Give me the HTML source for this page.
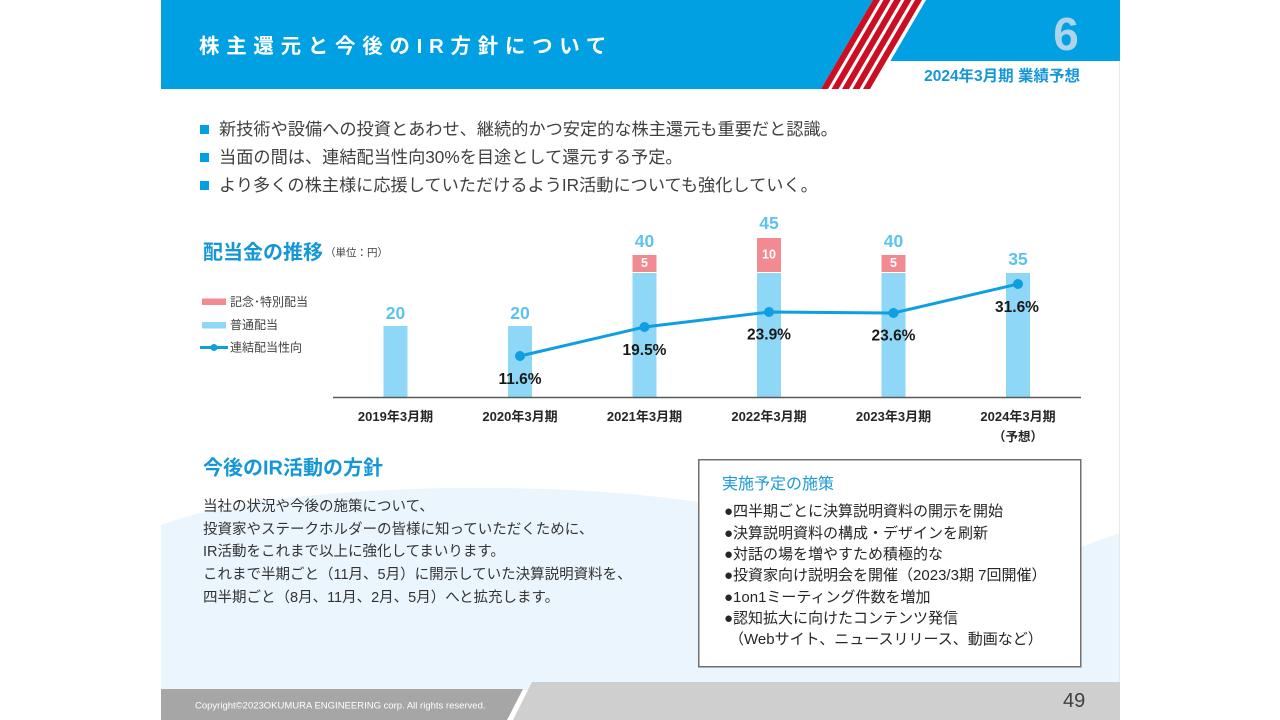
<!DOCTYPE html>
<html><head><meta charset="utf-8"><style>
body{margin:0;width:1280px;height:720px;position:relative;overflow:hidden;background:#fff;font-family:"Liberation Sans","Noto Sans CJK JP",sans-serif;}
.a{position:absolute;white-space:nowrap;}
.sq{position:absolute;width:9px;height:9px;background:#00a0e2;}
</style></head><body>
<svg width="1280" height="720" style="position:absolute;left:0;top:0" font-family="Liberation Sans, Noto Sans CJK JP, sans-serif">
<path d="M161,525 C260,488 480,480 640,495 C800,510 950,560 1081,547 L1120,533 L1120,690 L161,690 Z" fill="#ebf5fd"/>
<line x1="1119.5" y1="0" x2="1119.5" y2="720" stroke="#e8e8e8" stroke-width="1"/>
<polygon points="161,0 873,0 821,89 161,89" fill="#00a0e2"/>
<polygon points="926,0 1120,0 1120,61 890.4,61" fill="#00a0e2"/>
<g fill="#cc0e22">
<polygon points="873,0 880,0 828,89 821,89"/>
<polygon points="883.5,0 890.5,0 838.5,89 831.5,89"/>
<polygon points="894,0 901,0 849,89 842,89"/>
<polygon points="904.5,0 911.5,0 859.5,89 852.5,89"/>
<polygon points="915,0 922,0 870,89 863,89"/>
</g>
<text x="1066" y="34" text-anchor="middle" dominant-baseline="central" font-size="46" font-weight="bold" fill="#aed4ea">6</text>
<text x="1080" y="76.5" text-anchor="end" dominant-baseline="central" font-size="15.5" font-weight="bold" fill="#1597d7">2024年3月期 業績予想</text>

<!-- footer -->
<polygon points="161,689 523,689 507,720 161,720" fill="#a6a6a6"/>
<polygon points="532,682 1120,682 1120,720 513,720" fill="#d0cfcf"/>
<text x="195" y="706" dominant-baseline="central" font-size="9.5" fill="#ffffff">Copyright©2023OKUMURA ENGINEERING corp. All rights reserved.</text>
<text x="1063" y="701" dominant-baseline="central" font-size="20" fill="#404040">49</text>

<!-- chart headings -->
<text x="203" y="253" dominant-baseline="central" font-size="20" font-weight="bold" fill="#1597d7">配当金の推移</text>
<text x="325" y="253" dominant-baseline="central" font-size="10.5" fill="#404040">（単位：円）</text>

<!-- legend -->
<rect x="202" y="298.5" width="24" height="6.5" fill="#f28a92"/>
<text x="230" y="302" dominant-baseline="central" font-size="12" fill="#404040">記念･特別配当</text>
<rect x="202" y="322" width="24" height="6.5" fill="#8ed7f7"/>
<text x="230" y="325" dominant-baseline="central" font-size="12" fill="#404040">普通配当</text>
<line x1="200" y1="347.5" x2="228" y2="347.5" stroke="#0f9ee0" stroke-width="3"/>
<circle cx="214" cy="347.5" r="3.5" fill="#0f9ee0"/>
<text x="230" y="347.5" dominant-baseline="central" font-size="12" fill="#404040">連結配当性向</text>

<!-- bars -->
<g fill="#8ed7f7">
<rect x="383.5" y="326" width="24" height="71"/>
<rect x="508" y="326" width="24" height="71"/>
<rect x="632.5" y="273" width="24" height="124"/>
<rect x="757" y="273" width="24" height="124"/>
<rect x="881.5" y="273" width="24" height="124"/>
<rect x="1006" y="273" width="24" height="124"/>
</g>
<g fill="#f28a92">
<rect x="632.5" y="255" width="24" height="17"/>
<rect x="757" y="238" width="24" height="34"/>
<rect x="881.5" y="255" width="24" height="17"/>
</g>
<line x1="333" y1="397.5" x2="1081" y2="397.5" stroke="#595959" stroke-width="1.5"/>

<!-- value labels -->
<g font-size="17.5" font-weight="bold" fill="#5cc3f0" text-anchor="middle" dominant-baseline="central">
<text x="395.5" y="313">20</text>
<text x="520" y="313">20</text>
<text x="644.5" y="241">40</text>
<text x="769" y="223">45</text>
<text x="893.5" y="241">40</text>
<text x="1018" y="259">35</text>
</g>
<g font-size="12.5" font-weight="bold" fill="#ffffff" text-anchor="middle" dominant-baseline="central">
<text x="644.5" y="263">5</text>
<text x="769" y="254.5">10</text>
<text x="893.5" y="263">5</text>
</g>

<!-- line -->
<polyline points="520,356 644.5,327 769,312 893.5,313 1018,284" fill="none" stroke="#0f9ee0" stroke-width="3"/>
<g fill="#0f9ee0">
<circle cx="520" cy="356" r="5"/>
<circle cx="644.5" cy="327" r="5"/>
<circle cx="769" cy="312" r="5"/>
<circle cx="893.5" cy="313" r="5"/>
<circle cx="1018" cy="284" r="5"/>
</g>
<g font-size="15.5" font-weight="bold" fill="#1a1a1a" text-anchor="middle" dominant-baseline="central">
<text x="520" y="379.5">11.6%</text>
<text x="644.5" y="350.5">19.5%</text>
<text x="769" y="335">23.9%</text>
<text x="893.5" y="336">23.6%</text>
<text x="1017" y="307.5">31.6%</text>
</g>

<!-- categories -->
<g font-size="13" font-weight="bold" fill="#262626" text-anchor="middle" dominant-baseline="central">
<text x="395.5" y="416.5">2019年3月期</text>
<text x="520" y="416.5">2020年3月期</text>
<text x="644.5" y="416.5">2021年3月期</text>
<text x="769" y="416.5">2022年3月期</text>
<text x="893.5" y="416.5">2023年3月期</text>
<text x="1018" y="416.5">2024年3月期</text>
<text x="1018" y="437" font-size="12.5">（予想）</text>
</g>

<!-- IR heading -->
<text x="203" y="468.5" dominant-baseline="central" font-size="20" font-weight="bold" fill="#1597d7">今後のIR活動の方針</text>

<!-- box -->
<rect x="698.75" y="459.75" width="382" height="207" fill="#ffffff" stroke="#707070" stroke-width="1.5"/>
</svg>

<div class="a" style="left:199px;top:33px;line-height:28px;font-size:20.5px;font-weight:bold;color:#fff;letter-spacing:6.7px;">株主還元と今後のIR方針について</div>

<div class="sq" style="left:200px;top:125px;"></div>
<div class="sq" style="left:200px;top:153px;"></div>
<div class="sq" style="left:200px;top:181px;"></div>
<div class="a" style="left:219px;top:115px;font-size:17.2px;line-height:28px;color:#404040;">新技術や設備への投資とあわせ、継続的かつ安定的な株主還元も重要だと認識。<br>当面の間は、連結配当性向30%を目途として還元する予定。<br>より多くの株主様に応援していただけるようIR活動についても強化していく。</div>

<div class="a" style="left:203px;top:496px;font-size:14.5px;line-height:22.7px;color:#333;">当社の状況や今後の施策について、<br>投資家やステークホルダーの皆様に知っていただくために、<br>IR活動をこれまで以上に強化してまいります。<br>これまで半期ごと（11月、5月）に開示していた決算説明資料を、<br>四半期ごと（8月、11月、2月、5月）へと拡充します。</div>

<div class="a" style="left:722px;top:474px;font-size:16px;line-height:22px;color:#1a9ad8;">実施予定の施策</div>
<div class="a" style="left:724px;top:501.4px;font-size:15px;line-height:21.3px;color:#262626;">●四半期ごとに決算説明資料の開示を開始<br>●決算説明資料の構成・デザインを刷新<br>●対話の場を増やすため積極的な<br>●投資家向け説明会を開催（2023/3期 7回開催）<br>●1on1ミーティング件数を増加<br>●認知拡大に向けたコンテンツ発信<br><span style="padding-left:5px">（Webサイト、ニュースリリース、動画など）</span></div>
</body></html>
